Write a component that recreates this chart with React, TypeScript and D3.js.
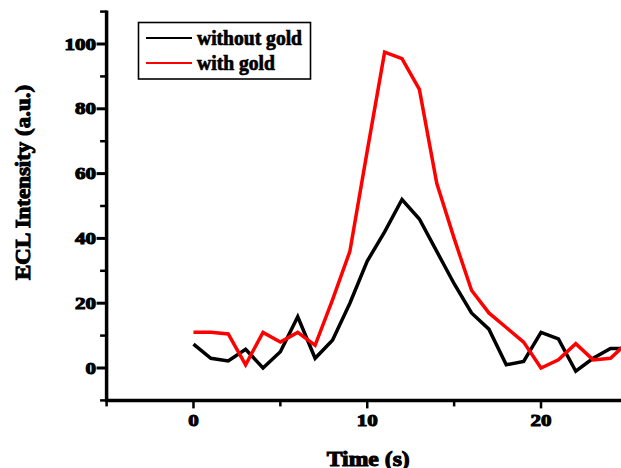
import React from "react";
import * as d3 from "d3";

// Time points (s)
const timeSeconds = [
  0, 1, 2, 3, 4, 5, 6, 7, 8, 9, 10, 11, 12, 13, 14, 15, 16, 17, 18, 19, 20, 21,
  22, 23, 24, 25,
];

// ECL intensity without gold
const withoutGold = [
  7.4, 3, 2.2, 5.8, 0, 5, 15.8, 3, 8.6, 20, 33, 42, 52, 46, 36, 26, 17, 12, 1,
  2, 11, 9, -1, 3, 6, 6,
];

// ECL intensity with gold
const withGold = [
  11, 11, 10.5, 1, 11, 8, 11, 7, 21, 36, 67, 97.5, 95.5, 86, 57, 40, 24, 17,
  12.5, 8, 0, 2.5, 7.5, 2.5, 3, 8,
];

const seriesNames = ["without gold", "with gold"];
const seriesColors = ["#000000", "#ff0000"];

const xMajorTicks = [0, 10, 20];
const xMinorTicks = [-5, 5, 15, 25];
const yMajorTicks = [0, 20, 40, 60, 80, 100];
const yMinorTicks = [-10, 10, 30, 50, 70, 90, 110];

const xTitle = "Time (s)";
const yTitle = "ECL Intensity (a.u.)";

const W = 621;
const H = 468;
const FONT = "'Liberation Serif', 'Times New Roman', serif";

export default function App() {
  const x = d3.scaleLinear().domain([-5, 25]).range([106.6, 627.9]);
  const y = d3.scaleLinear().domain([-10, 110]).range([400.4, 11.6]);

  const line = d3
    .line<number>()
    .x((_, i) => x(timeSeconds[i]))
    .y((d) => y(d))
    .curve(d3.curveLinear);

  const series = [withoutGold, withGold];

  const textStyle = {
    fontFamily: FONT,
    fontWeight: 700,
  } as const;

  const axisX = x(-5);
  const axisY = y(-10);

  return (
    <svg
      width={W}
      height={H}
      style={{ position: "absolute", left: 0, top: 0, background: "#fff" }}
    >
      <rect x={0} y={0} width={W} height={H} fill="#fff" />

      {/* data lines */}
      {series.map((vals, i) => (
        <path
          key={seriesNames[i]}
          d={line(vals) || ""}
          fill="none"
          stroke={seriesColors[i]}
          strokeWidth={3.5}
          strokeLinejoin="miter"
        />
      ))}

      {/* y axis */}
      <line
        x1={axisX}
        x2={axisX}
        y1={y(110) - 1}
        y2={axisY + 1.5}
        stroke="#000"
        strokeWidth={3.5}
      />
      {yMajorTicks.map((v) => (
        <g key={"ym" + v}>
          <line
            x1={axisX - 10}
            x2={axisX}
            y1={y(v)}
            y2={y(v)}
            stroke="#000"
            strokeWidth={3}
          />
          <text
            x={axisX - 10.5}
            y={y(v) + 5.5}
            textAnchor="end"
            fontSize={16}
            textLength={String(v).length * 10.5}
            lengthAdjust="spacingAndGlyphs"
            stroke="#000"
            strokeWidth={1}
            style={textStyle}
          >
            {v}
          </text>
        </g>
      ))}
      {yMinorTicks.map((v) => (
        <line
          key={"yn" + v}
          x1={axisX - 6.5}
          x2={axisX}
          y1={y(v)}
          y2={y(v)}
          stroke="#000"
          strokeWidth={2.5}
        />
      ))}

      {/* x axis */}
      <line
        x1={axisX - 1.5}
        x2={W}
        y1={axisY}
        y2={axisY}
        stroke="#000"
        strokeWidth={3.5}
      />
      {xMajorTicks.map((t) => (
        <g key={"xm" + t}>
          <line
            x1={x(t)}
            x2={x(t)}
            y1={axisY}
            y2={axisY + 8}
            stroke="#000"
            strokeWidth={2.5}
          />
          <text
            x={x(t)}
            y={426}
            textAnchor="middle"
            fontSize={16}
            textLength={String(t).length * 10.5}
            lengthAdjust="spacingAndGlyphs"
            stroke="#000"
            strokeWidth={1}
            style={textStyle}
          >
            {t}
          </text>
        </g>
      ))}
      {xMinorTicks.map((t) => (
        <line
          key={"xn" + t}
          x1={x(t)}
          x2={x(t)}
          y1={axisY}
          y2={axisY + 6}
          stroke="#000"
          strokeWidth={2.5}
        />
      ))}

      {/* axis titles */}
      <text
        x={x(10) + 1}
        y={465.5}
        textAnchor="middle"
        fontSize={20}
        textLength={83}
        lengthAdjust="spacingAndGlyphs"
        stroke="#000"
        strokeWidth={1}
        style={textStyle}
      >
        {xTitle}
      </text>
      <text
        transform={`translate(29.5, 182.5) rotate(-90)`}
        textAnchor="middle"
        fontSize={21}
        textLength={195}
        lengthAdjust="spacingAndGlyphs"
        stroke="#000"
        strokeWidth={1}
        style={textStyle}
      >
        {yTitle}
      </text>

      {/* legend */}
      <rect
        x={138.5}
        y={22.5}
        width={172}
        height={56.5}
        fill="#fff"
        stroke="#000"
        strokeWidth={1.6}
      />
      {seriesNames.map((name, i) => (
        <g key={"lg" + name}>
          <line
            x1={146}
            x2={192}
            y1={38 + i * 25}
            y2={38 + i * 25}
            stroke={seriesColors[i]}
            strokeWidth={2.2}
          />
          <text
            x={197}
            y={45 + i * 24.5}
            fontSize={20}
            textLength={i === 0 ? 105 : 78}
            lengthAdjust="spacingAndGlyphs"
            stroke="#000"
            strokeWidth={0.7}
            style={textStyle}
          >
            {name}
          </text>
        </g>
      ))}
    </svg>
  );
}
